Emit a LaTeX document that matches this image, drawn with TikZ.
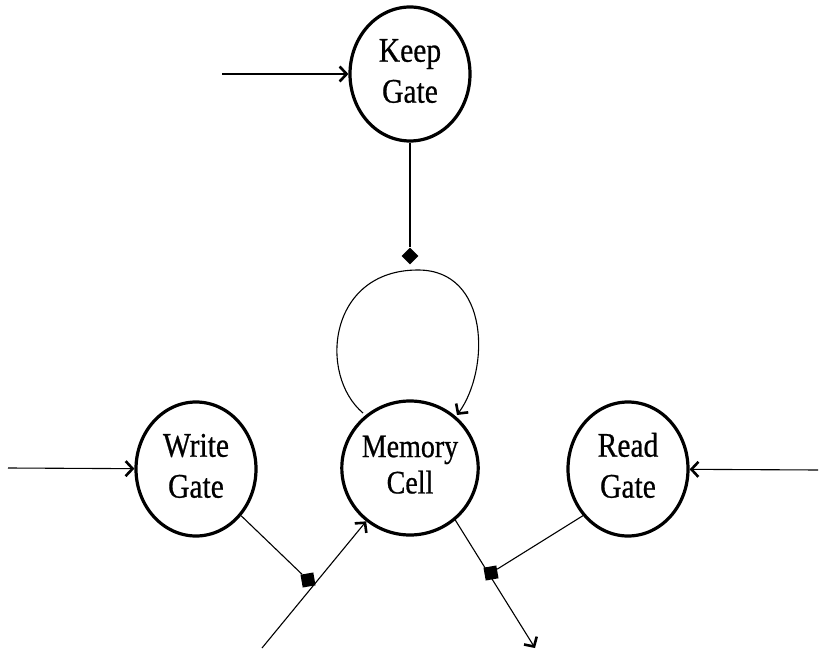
\documentclass[tikz,border=0pt]{standalone}
\usepackage{fontspec}
\setmainfont{Liberation Serif}
\newfontfamily\gatefont[FakeBold=0.7]{Liberation Serif}
\usetikzlibrary{shapes.geometric,arrows.meta}
\newcommand\gtxt[2]{\scalebox{1}[1.17]{\begin{tabular}{@{}c@{}}#1\\#2\end{tabular}}}
\tikzset{
 gate/.style={ellipse,draw,line width=3.2pt,minimum width=120pt,minimum height=134pt,inner sep=0pt,align=center,font=\gatefont\fontsize{29.5}{35}\selectfont},
 conn/.style={line width=1.1pt},
 arr/.style={conn,-{Straight Barb[length=7pt,width=15pt,line width=2.6pt]}},
 dia/.style={diamond,fill=black,minimum width=17pt,minimum height=17pt,inner sep=0pt},
 sq/.style={rectangle,fill=black,minimum size=13pt,inner sep=0pt,rotate=10},
}
\begin{document}
\begin{tikzpicture}[x=1pt,y=-1pt]
\useasboundingbox[fill=white] (0,0) rectangle (822,655);
\node[gate] (keep) at (410,74) {\gtxt{Keep}{Gate}};
\node[gate] (write) at (196,469) {\gtxt{Write}{Gate}};
\node[gate,font=\gatefont\fontsize{28}{31}\selectfont] (mem) at (410,468) {\raisebox{-5pt}{\gtxt{Memory}{Cell}}};
\node[gate] (read) at (628,469) {\gtxt{Read}{Gate}};
\coordinate (kin) at (222,74);
\coordinate (win) at (8,468);
\coordinate (rin) at (818,470);
\draw[arr] (kin) -- (keep);
\draw[arr] (win) -- (write);
\draw[arr] (rin) -- (read);
\node[dia] (kd) at (410,256) {};
\draw[conn] (keep) -- (kd);
\coordinate (ls) at (363,413);
\coordinate (lt) at (418,270);
\coordinate (le) at (457,415);
\draw[arr] (ls) .. controls (318,375) and (328,270) .. (lt) .. controls (490,270) and (490,370) .. (le);
\node[sq] (ws) at (308,580) {};
\draw[conn] (write.-46) -- (ws);
\coordinate (min) at (262,648);
\draw[arr] (min) -- (mem);
\coordinate (mout) at (535,648);
\draw[arr] (mem.-49) -- (mout);
\node[sq] (rs) at (491,573) {};
\draw[conn] (read.226) -- (rs);
\end{tikzpicture}
\end{document}
